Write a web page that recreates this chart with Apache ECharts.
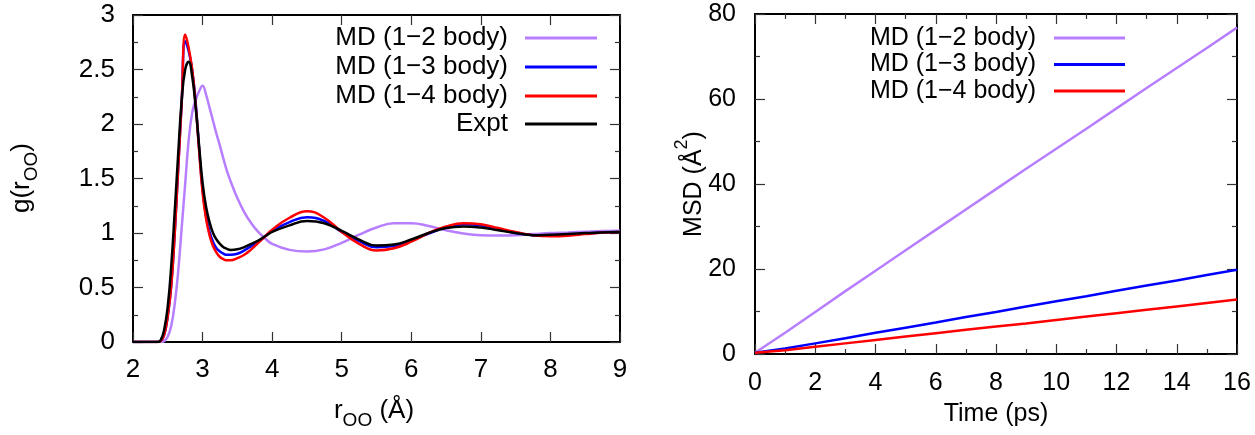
<!DOCTYPE html>
<html>
<head>
<meta charset="utf-8">
<script src="https://cdn.jsdelivr.net/npm/echarts@6/dist/echarts.min.js"></script>
<style>
html,body{margin:0;padding:0;background:#fff;}
#chart{width:1255px;height:435px;}
</style>
</head>
<body>
<div id="chart"></div>
<script>
// ---- Left panel: radial distribution function g(r_OO) ----
const rOO = [2.0, 2.2, 2.3, 2.35, 2.4, 2.45, 2.5, 2.55, 2.6, 2.65, 2.7, 2.75, 2.8, 2.85, 2.9, 2.95, 3.0, 3.05, 3.1, 3.15, 3.2, 3.25, 3.3, 3.35, 3.4,
  3.5, 3.6, 3.7, 3.8, 3.9, 4.0,
  4.25, 4.5, 4.75, 5.0, 5.25, 5.5, 5.75, 6.0, 6.25, 6.5, 6.75, 7.0, 7.25, 7.5, 7.75, 8.0, 8.25, 8.5, 8.75, 9.0];
const gMD12 = [0, 0, 0, 0, 0, 0.01, 0.05, 0.15, 0.35, 0.65, 1.05, 1.45, 1.85, 2.1, 2.22, 2.3, 2.35, 2.27, 2.15, 2.03, 1.91, 1.8, 1.68, 1.57, 1.48,
  1.32, 1.19, 1.09, 1.01, 0.95, 0.9,
  0.845, 0.83, 0.85, 0.91, 0.985, 1.05, 1.09, 1.09, 1.065, 1.025, 0.995, 0.98, 0.978, 0.98, 0.99, 1.0, 1.005, 1.012, 1.018, 1.02];
const gMD13 = [0, 0, 0, 0, 0.01, 0.07, 0.24, 0.52, 1.0, 1.6, 2.2, 2.76, 2.67, 2.5, 2.2, 1.78, 1.4, 1.16, 1.01, 0.92, 0.86, 0.83, 0.81, 0.8, 0.8,
  0.81, 0.84, 0.88, 0.92, 0.97, 1.02,
  1.1, 1.145, 1.11, 1.01, 0.925, 0.87, 0.88, 0.93, 0.995, 1.05, 1.08, 1.07, 1.035, 1.0, 0.98, 0.975, 0.98, 0.995, 1.005, 1.01];
const gMD14 = [0, 0, 0, 0, 0.01, 0.07, 0.24, 0.52, 1.0, 1.6, 2.2, 2.82, 2.7, 2.5, 2.18, 1.76, 1.37, 1.13, 0.98, 0.88, 0.82, 0.78, 0.76, 0.75, 0.75,
  0.77, 0.8, 0.85, 0.91, 0.97, 1.03,
  1.14, 1.2, 1.14, 1.01, 0.9, 0.84, 0.86, 0.92, 1.0, 1.06, 1.09, 1.08, 1.045, 1.01, 0.98, 0.97, 0.975, 0.99, 1.005, 1.01];
const gExpt = [0, 0, 0, 0, 0.02, 0.12, 0.33, 0.7, 1.2, 1.73, 2.22, 2.5, 2.57, 2.44, 2.16, 1.8, 1.46, 1.24, 1.1, 1.0, 0.94, 0.9, 0.87, 0.855, 0.845,
  0.85, 0.87, 0.9, 0.93, 0.97, 1.01,
  1.07, 1.11, 1.09, 1.02, 0.94, 0.885, 0.895, 0.94, 1.0, 1.045, 1.06, 1.05, 1.025, 1.0, 0.98, 0.985, 0.99, 1.0, 1.005, 1.01];

// ---- Right panel: mean square displacement ----
const timePs = [0, 1, 2, 3, 4, 5, 6, 7, 8, 9, 10, 11, 12, 13, 14, 15, 16];
const msdMD12 = [0.3, 5.0, 9.9, 14.8, 19.6, 24.4, 29.2, 34.0, 38.8, 43.6, 48.3, 53.0, 57.8, 62.6, 67.3, 72.0, 76.8];
const msdMD13 = [0.3, 1.3, 2.5, 3.7, 5.0, 6.2, 7.4, 8.7, 9.9, 11.2, 12.4, 13.6, 14.9, 16.1, 17.3, 18.6, 19.8];
const msdMD14 = [0.3, 0.9, 1.7, 2.5, 3.3, 4.1, 4.9, 5.7, 6.45, 7.2, 8.0, 8.8, 9.6, 10.4, 11.2, 12.0, 12.8];

const names = ['MD (1\u22122 body)', 'MD (1\u22123 body)', 'MD (1\u22124 body)', 'Expt'];
const colors = ['#b77fff', '#0000ff', '#ff0000', '#000000'];

const FONT = 'Liberation Sans, Arial, sans-serif';
const pair = (xs, ys) => xs.map((x, i) => [x, ys[i]]);

function axisCommon(extra) {
  return Object.assign({
    type: 'value',
    axisLine: { show: true, onZero: false, lineStyle: { color: '#000', width: 2 } },
    axisTick: { show: true, inside: true, length: 10, lineStyle: { color: '#333', width: 1.2 } },
    splitLine: { show: false },
  }, extra);
}

const lblL = { color: '#000', fontFamily: FONT, fontSize: 26 };
const lblR = { color: '#000', fontFamily: FONT, fontSize: 25 };
const minorT = (n) => ({ show: true, splitNumber: n, length: 5, lineStyle: { color: '#333', width: 1.2 } });

const xAxes = [
  axisCommon({ gridIndex: 0, position: 'bottom', min: 2, max: 9, interval: 1, axisLabel: Object.assign({ margin: 15 }, lblL) }),
  axisCommon({ gridIndex: 0, position: 'top', min: 2, max: 9, interval: 1, axisLabel: { show: false } }),
  axisCommon({ gridIndex: 1, position: 'bottom', min: 0, max: 16, interval: 2, minorTick: minorT(2), axisLabel: Object.assign({ margin: 17 }, lblR) }),
  axisCommon({ gridIndex: 1, position: 'top', min: 0, max: 16, interval: 2, minorTick: minorT(2), axisLabel: { show: false } }),
];
const yAxes = [
  axisCommon({ gridIndex: 0, position: 'left', min: 0, max: 3, interval: 0.5, minorTick: minorT(2), axisLabel: Object.assign({ margin: 18 }, lblL) }),
  axisCommon({ gridIndex: 0, position: 'right', min: 0, max: 3, interval: 0.5, minorTick: minorT(2), axisLabel: { show: false } }),
  axisCommon({ gridIndex: 1, position: 'left', min: 0, max: 80, interval: 20, minorTick: minorT(2), axisLabel: Object.assign({ margin: 19 }, lblR) }),
  axisCommon({ gridIndex: 1, position: 'right', min: 0, max: 80, interval: 20, minorTick: minorT(2), axisLabel: { show: false } }),
];

function lineSeries(name, color, data, xi, yi, smooth) {
  return {
    type: 'line', name: name, xAxisIndex: xi, yAxisIndex: yi, data: data,
    symbol: 'none', showSymbol: false, smooth: smooth,
    lineStyle: { color: color, width: 2.5 }, itemStyle: { color: color },
    z: 3
  };
}

const gSets = [gMD12, gMD13, gMD14, gExpt];
const msdSets = [msdMD12, msdMD13, msdMD14];
const series = [];
gSets.forEach((g, i) => series.push(lineSeries(names[i], colors[i], pair(rOO, g), 0, 0, 0.45)));
msdSets.forEach((m, i) => series.push(lineSeries(names[i], colors[i], pair(timePs, m), 2, 2, false)));

// individual legend entries (text right-aligned, line sample on the right)
const legends = [];
const leftRows = [38, 67, 96, 124];
const rightRows = [38, 64.5, 91];
names.forEach((n, i) => legends.push({
  data: [n], orient: 'vertical', align: 'right', right: 658, top: leftRows[i] - 14, padding: 0,
  icon: 'rect', itemWidth: 72, itemHeight: 3, itemGap: 0, selectedMode: false,
  textStyle: { fontFamily: FONT, fontSize: 26, color: '#000', lineHeight: 28, padding: [0, 12, 0, 0] }
}));
names.slice(0, 3).forEach((n, i) => legends.push({
  data: [n], orient: 'vertical', align: 'right', right: 130, top: rightRows[i] - 13, padding: 0,
  icon: 'rect', itemWidth: 71, itemHeight: 3, itemGap: 0, selectedMode: false,
  textStyle: { fontFamily: FONT, fontSize: 25, color: '#000', lineHeight: 26, padding: [0, 13, 0, 0] }
}));

const chart = echarts.init(document.getElementById('chart'), null, { renderer: 'canvas' });
chart.setOption({
  animation: false,
  backgroundColor: '#fff',
  grid: [
    { left: 133, right: 635, top: 15, bottom: 93 },
    { left: 755, right: 18, top: 14, bottom: 81 }
  ],
  xAxis: xAxes,
  yAxis: yAxes,
  legend: legends,
  series: series,
  graphic: [
    { type: 'text', x: 22, y: 178, rotation: Math.PI / 2,
      style: { text: '{a|g(r}{b|OO}{a|)}', align: 'center', verticalAlign: 'middle',
        rich: { a: { fontFamily: FONT, fontSize: 26, lineHeight: 26, verticalAlign: 'top', fill: '#000' },
                b: { fontFamily: FONT, fontSize: 19, lineHeight: 19, padding: [13, 0, 0, 0], verticalAlign: 'top', fill: '#000' } } } },
    { type: 'text', x: 374, y: 411,
      style: { text: '{a|r}{b|OO}{a| (\u00c5)}', align: 'center', verticalAlign: 'middle',
        rich: { a: { fontFamily: FONT, fontSize: 26, lineHeight: 26, verticalAlign: 'top', fill: '#000' },
                b: { fontFamily: FONT, fontSize: 19, lineHeight: 19, padding: [13, 0, 0, 0], verticalAlign: 'top', fill: '#000' } } } },
    { type: 'text', x: 686, y: 184, rotation: Math.PI / 2,
      style: { text: '{a|MSD (\u00c5}{b|2}{a|)}', align: 'center', verticalAlign: 'middle',
        rich: { a: { fontFamily: FONT, fontSize: 25, lineHeight: 25, padding: [8, 0, 0, 0], verticalAlign: 'top', fill: '#000' },
                b: { fontFamily: FONT, fontSize: 18, lineHeight: 18, verticalAlign: 'top', fill: '#000' } } } },
    { type: 'text', x: 996, y: 414,
      style: { text: 'Time (ps)', align: 'center', verticalAlign: 'middle', fontFamily: FONT, fontSize: 25, fill: '#000' } }
  ]
});
</script>
</body>
</html>
